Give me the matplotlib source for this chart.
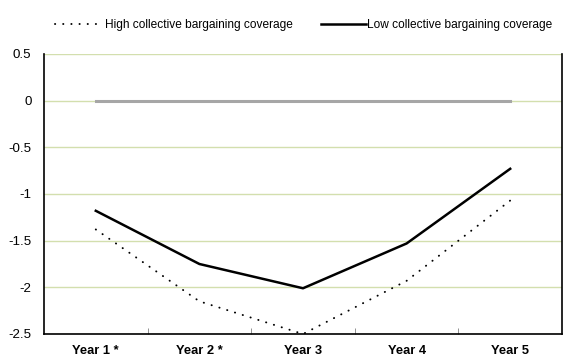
import numpy as np
import matplotlib.pyplot as plt

plt.rcParams['font.family'] = ['Liberation Sans', 'DejaVu Sans']

# Data
categories = ["Year 1 *", "Year 2 *", "Year 3", "Year 4", "Year 5"]
high_cov = [-1.38, -2.15, -2.50, -1.93, -1.07]
low_cov = [-1.18, -1.75, -2.01, -1.53, -0.73]
zero_line = [0, 0, 0, 0, 0]
y_ticks = [0.5, 0, -0.5, -1, -1.5, -2, -2.5]

fig = plt.figure(figsize=(5.64, 3.56), dpi=100)
ax = fig.add_axes([44 / 564, 1 - 334 / 356, 518 / 564, 280 / 356])

x = np.arange(len(categories))

for yv in y_ticks:
    ax.axhline(yv, color="#d3dfae", linewidth=1, zorder=0)

ax.plot(x, zero_line, color="#a6a6a6", linewidth=2.2, zorder=2)
high_line, = ax.plot(x, high_cov, color="black", linewidth=1.4,
                     linestyle=(0, (0.1, 4.1)), dash_capstyle="round", zorder=3,
                     label="High collective bargaining coverage")
low_line, = ax.plot(x, low_cov, color="black", linewidth=1.8, zorder=3,
                    label="Low collective bargaining coverage")

ax.set_xlim(-0.5, len(categories) - 0.5)
ax.set_ylim(-2.5, 0.5)
ax.set_yticks(y_ticks)
ax.set_yticklabels(["0.5", "0", "-0.5", "-1", "-1.5", "-2", "-2.5"], fontsize=9.6)
ax.set_xticks(x)
ax.set_xticklabels(categories, fontsize=9.3, fontweight="bold")
ax.tick_params(axis="x", length=0, pad=8)
ax.tick_params(axis="y", length=0, pad=9)
ax.set_xticks(np.arange(0.5, len(categories) - 0.5), minor=True)
ax.tick_params(axis="x", which="minor", length=4, direction="in", color="#808080")

ax.spines["top"].set_visible(False)
for s in ["left", "bottom", "right"]:
    ax.spines[s].set_color("black")
    ax.spines[s].set_linewidth(1.2)

# two legend entries placed separately, like the original layout
fig.legend(handles=[high_line], loc="center left", bbox_to_anchor=(55 / 564, 1 - 25 / 356),
           frameon=False, fontsize=8.6, handlelength=3.8, handletextpad=0.35,
           borderaxespad=0, borderpad=0)
fig.legend(handles=[low_line], loc="center left", bbox_to_anchor=(321 / 564, 1 - 25 / 356),
           frameon=False, fontsize=8.6, handlelength=3.8, handletextpad=0.05,
           borderaxespad=0, borderpad=0)

fig.savefig("out.png", dpi=100)
